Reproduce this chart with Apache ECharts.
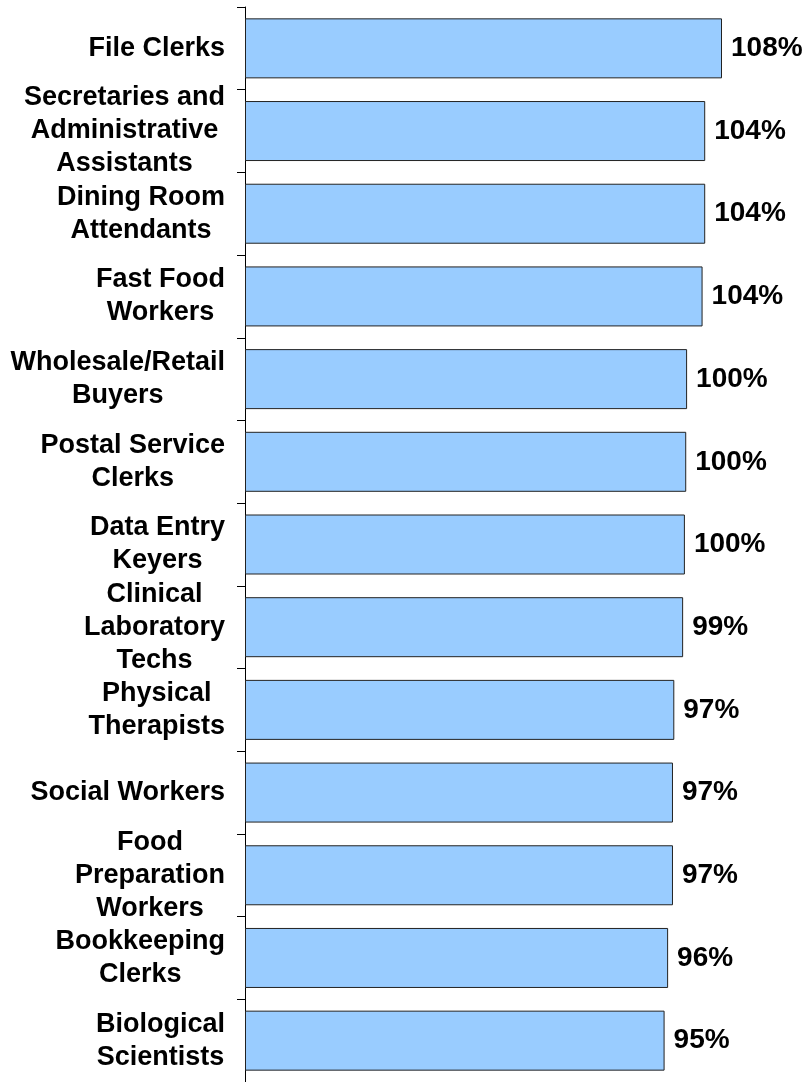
<!DOCTYPE html>
<html>
<head>
<meta charset="utf-8">
<script src="https://cdn.jsdelivr.net/npm/echarts@6/dist/echarts.min.js"></script>
<style>
html,body{margin:0;padding:0;background:#fff;}
#chart{width:810px;height:1082px;}
</style>
</head>
<body>
<div id="chart"></div>
<script>
const categories = [
  "File Clerks",
  "Secretaries and\nAdministrative\nAssistants",
  "Dining Room\nAttendants",
  "Fast Food\nWorkers",
  "Wholesale/Retail\nBuyers",
  "Postal Service\nClerks",
  "Data Entry\nKeyers",
  "Clinical\nLaboratory\nTechs",
  "Physical\nTherapists",
  "Social Workers",
  "Food\nPreparation\nWorkers",
  "Bookkeeping\nClerks",
  "Biological\nScientists"
];
const values = [108.0, 104.2, 104.2, 103.6, 100.1, 99.9, 99.6, 99.2, 97.2, 96.9, 96.9, 95.8, 95.0];

const chart = echarts.init(document.getElementById('chart'), null, {renderer: 'canvas'});
chart.setOption({
  animation: false,
  backgroundColor: '#ffffff',
  grid: {left: 245, top: 7, width: 530, height: 1078},
  xAxis: {type: 'value', min: 0, max: 120, show: false},
  yAxis: {
    type: 'category',
    data: categories,
    inverse: true,
    axisLine: {show: true, lineStyle: {color: '#000', width: 1}},
    axisTick: {show: true, length: 8, lineStyle: {color: '#000', width: 1}},
    axisLabel: {
      margin: 20,
      align: 'right',
      formatter: function (v) {
        return v.split('\n').map(function (l) { return '{c|' + l + '}'; }).join('\n');
      },
      rich: {
        c: {
          align: 'center',
          fontFamily: '"Liberation Sans", Arial, sans-serif',
          fontWeight: 'bold',
          fontSize: 27,
          lineHeight: 33,
          color: '#000'
        }
      }
    }
  },
  series: [{
    type: 'bar',
    data: values,
    barWidth: 60,
    itemStyle: {color: '#99CCFF', borderColor: '#222', borderWidth: 1},
    label: {
      show: true,
      position: 'right',
      distance: 9,
      formatter: function (p) { return Math.round(p.value) + '%'; },
      fontFamily: '"Liberation Sans", Arial, sans-serif',
      fontWeight: 'bold',
      fontSize: 28,
      color: '#000'
    }
  }]
});
</script>
</body>
</html>
